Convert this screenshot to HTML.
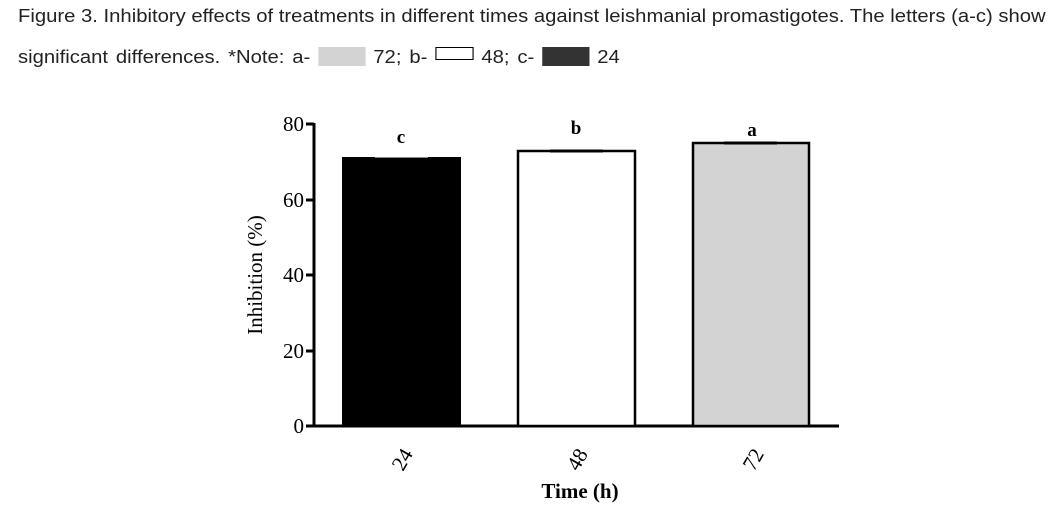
<!DOCTYPE html>
<html><head><meta charset="utf-8"><style>
body{margin:0;width:1061px;height:521px;background:#fff;overflow:hidden;position:relative;font-family:"Liberation Sans",sans-serif}
.t{position:absolute;left:18px;font-size:18px;color:#222;white-space:nowrap;transform-origin:0 0;transform:scaleX(1.125)}
</style></head><body>
<div class="t" style="top:6px">Figure 3. Inhibitory effects of treatments in different times against leishmanial promastigotes. The letters (a-c) show</div>
<div class="t" style="top:47px;word-spacing:2px">significant differences. *Note: a- <span style="display:inline-block;width:42px;height:19px;background:#d3d3d3;vertical-align:-3px"></span> 72; b- <span style="display:inline-block;width:34px;height:13px;border:1.5px solid #000;vertical-align:3px;box-sizing:border-box"></span> 48; c- <span style="display:inline-block;width:42px;height:19px;background:#333;vertical-align:-3px"></span> 24</div>
<svg width="1061" height="521" style="position:absolute;left:0;top:0" font-family="Liberation Serif, serif">
<g stroke="#000" stroke-width="3" fill="none">
<line x1="314" y1="123" x2="314" y2="427"/>
<line x1="312" y1="426" x2="839" y2="426"/>
<line x1="306" y1="124" x2="314" y2="124"/>
<line x1="306" y1="200" x2="314" y2="200"/>
<line x1="306" y1="275" x2="314" y2="275"/>
<line x1="306" y1="351" x2="314" y2="351"/>
<line x1="306" y1="426" x2="314" y2="426"/>
</g>
<g font-size="21" text-anchor="end" fill="#000">
<text x="304" y="131">80</text><text x="304" y="207">60</text><text x="304" y="282">40</text><text x="304" y="358">20</text><text x="304" y="433">0</text>
</g>
<rect x="342" y="157" width="119" height="269" fill="#000"/>
<line x1="375" y1="157.5" x2="428" y2="157.5" stroke="#888" stroke-width="1"/>
<rect x="518" y="151" width="117" height="275" fill="#fff" stroke="#000" stroke-width="2.5"/>
<line x1="550" y1="151" x2="603" y2="151" stroke="#000" stroke-width="3"/>
<rect x="693" y="143" width="116" height="283" fill="#d3d3d3" stroke="#000" stroke-width="2.5"/>
<line x1="724" y1="143" x2="777" y2="143" stroke="#000" stroke-width="3"/>
<g font-size="19" font-weight="bold" text-anchor="middle">
<text x="401" y="143">c</text><text x="576" y="134">b</text><text x="752" y="136">a</text>
</g>
<g font-size="21">
<text transform="translate(403,472) rotate(-60)">24</text>
<text transform="translate(578,472) rotate(-60)">48</text>
<text transform="translate(754,472) rotate(-60)">72</text>
</g>
<text x="580" y="498" font-size="21" font-weight="bold" text-anchor="middle">Time (h)</text>
<text transform="translate(262,275) rotate(-90)" font-size="21" text-anchor="middle">Inhibition (%)</text>
</svg>
</body></html>
